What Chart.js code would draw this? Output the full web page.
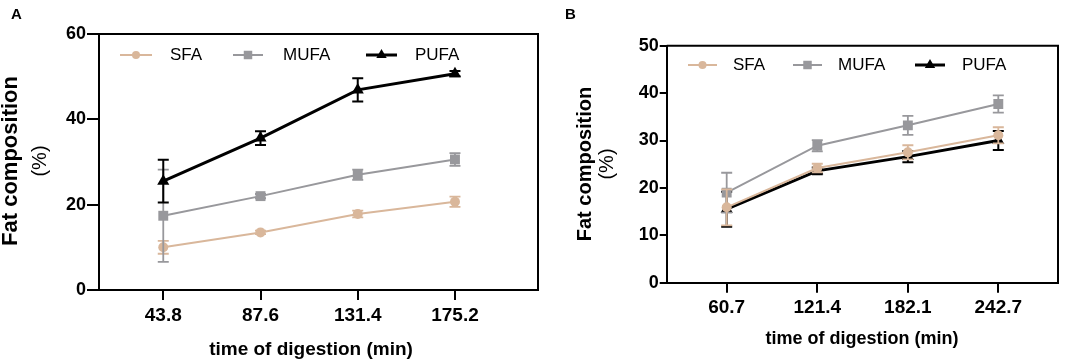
<!DOCTYPE html>
<html><head><meta charset="utf-8">
<script src="https://cdn.jsdelivr.net/npm/chart.js@4.4.1/dist/chart.umd.min.js"></script>
<style>
html,body{margin:0;padding:0;background:#fff;overflow:hidden;}
#wrap{position:relative;width:1084px;height:362px;}
#pa{position:absolute;left:0;top:0;width:545px;height:362px;}
#pb{position:absolute;left:545px;top:0;width:539px;height:362px;}
</style></head><body>
<div id="wrap">
<div id="pa"><canvas id="ca" width="545" height="362"></canvas></div>
<div id="pb"><canvas id="cb" width="539" height="362"></canvas></div>
</div>
<script>
// ---------- data ----------
const seriesNames = ['SFA', 'MUFA', 'PUFA'];

const timesA = [43.8, 87.6, 131.4, 175.2];
const tickLabelsA = ['43.8', '87.6', '131.4', '175.2'];
const sfaA = [10.0, 13.5, 17.8, 20.7];
const sfaErrA = [1.5, 0.4, 0.8, 1.2];
const mufaA = [17.4, 22.0, 27.0, 30.6];
const mufaErrA = [10.8, 0.5, 1.2, 1.5];
const pufaA = [25.5, 35.6, 46.9, 50.7];
const pufaErrA = [5.0, 1.6, 2.7, 0.6];
const yTicksA = [0, 20, 40, 60];

const timesB = [60.7, 121.4, 182.1, 242.7];
const tickLabelsB = ['60.7', '121.4', '182.1', '242.7'];
const sfaB = [15.9, 24.2, 27.5, 31.1];
const sfaErrB = [3.8, 0.9, 1.5, 1.7];
const mufaB = [19.0, 28.9, 33.2, 37.7];
const mufaErrB = [4.2, 1.2, 2.0, 1.8];
const pufaB = [15.5, 23.6, 26.6, 30.0];
const pufaErrB = [3.7, 0.7, 1.2, 2.0];
const yTicksB = [0, 10, 20, 30, 40, 50];

// ---------- styles ----------
const FONT = '"Liberation Sans", Arial, sans-serif';
const COL = { SFA: '#d9b79b', MUFA: '#98989c', PUFA: '#000000' };
const STYLE = {
  SFA: { pointStyle: 'circle', radius: 5, lw: 2 },
  MUFA: { pointStyle: 'rect', radius: 7, lw: 2 },
  PUFA: { pointStyle: 'triangle', radius: 7, lw: 3 }
};

function mkDs(name, xs, ys, errs, order) {
  const s = STYLE[name];
  return {
    label: name,
    data: xs.map((x, i) => ({ x: x, y: ys[i] })),
    errors: errs,
    borderColor: COL[name],
    backgroundColor: COL[name],
    pointBackgroundColor: COL[name],
    pointBorderColor: COL[name],
    pointBorderWidth: 0,
    pointStyle: s.pointStyle,
    pointRadius: s.radius,
    borderWidth: s.lw,
    tension: 0,
    order: order
  };
}

const errorBars = {
  id: 'errorBars',
  beforeDatasetDraw(chart, args) {
    const ds = chart.data.datasets[args.index];
    if (!ds.errors) return;
    const ys = chart.scales.y, ctx = chart.ctx;
    ctx.save();
    ctx.strokeStyle = ds.borderColor;
    ctx.lineWidth = ds.label === 'PUFA' ? 2 : 1.8;
    args.meta.data.forEach((pt, i) => {
      const v = ds.data[i].y, e = ds.errors[i];
      const y1 = ys.getPixelForValue(v + e), y2 = ys.getPixelForValue(v - e);
      const x = pt.x, c = 5.5;
      ctx.beginPath();
      ctx.moveTo(x, y1); ctx.lineTo(x, y2);
      ctx.moveTo(x - c, y1); ctx.lineTo(x + c, y1);
      ctx.moveTo(x - c, y2); ctx.lineTo(x + c, y2);
      ctx.stroke();
    });
    ctx.restore();
  }
};

const decor = {
  id: 'decor',
  afterDraw(chart, args, o) {
    const ctx = chart.ctx, a = chart.chartArea;
    ctx.save();
    // frame
    ctx.strokeStyle = '#000'; ctx.lineWidth = 2;
    ctx.beginPath();
    ctx.moveTo(a.left, a.top); ctx.lineTo(a.right, a.top); ctx.lineTo(a.right, a.bottom);
    ctx.stroke();
    ctx.fillStyle = '#000';
    // panel letter
    ctx.font = 'bold 15px ' + FONT; ctx.textAlign = 'left'; ctx.textBaseline = 'middle';
    ctx.fillText(o.letter, o.letterX, 15);
    // x title
    ctx.font = 'bold ' + o.xtSize + 'px ' + FONT; ctx.textAlign = 'center';
    ctx.fillText('time of digestion (min)', o.xtX, o.xtY);
    // y title
    ctx.save();
    ctx.translate(o.ytX, o.ytY); ctx.rotate(-Math.PI / 2);
    ctx.font = 'bold ' + o.ytSize + 'px ' + FONT;
    ctx.fillText('Fat composition', 0, 0);
    ctx.restore();
    ctx.save();
    ctx.translate(o.yt2X, o.ytY); ctx.rotate(-Math.PI / 2);
    ctx.font = '20px ' + FONT;
    ctx.fillText('(%)', 0, 0);
    ctx.restore();
    // legend
    ctx.font = '17px ' + FONT; ctx.textAlign = 'left';
    o.legend.forEach((it, i) => {
      const ds = chart.data.datasets[i];
      ctx.strokeStyle = ds.borderColor; ctx.lineWidth = ds.borderWidth;
      ctx.beginPath(); ctx.moveTo(it[0], o.legY); ctx.lineTo(it[1], o.legY); ctx.stroke();
      ctx.fillStyle = ds.borderColor;
      Chart.helpers.drawPoint(ctx, { pointStyle: ds.pointStyle, radius: ds.pointRadius - 1, rotation: 0, borderWidth: 0 }, (it[0] + it[1]) / 2, o.legY);
      ctx.fillStyle = '#000';
      ctx.fillText(seriesNames[i], it[2], o.legY);
    });
    ctx.restore();
  }
};

function axisCommon(tickSize) {
  return {
    ticks: { color: '#000', font: { family: FONT, size: tickSize, weight: 'bold' }, autoSkip: false, maxRotation: 0 },
    grid: { display: true, drawOnChartArea: false, drawTicks: true, color: '#000', lineWidth: 2 },
    border: { display: true, color: '#000', width: 2 }
  };
}

function makeChart(id, cfg) {
  const xs = axisCommon(19), ysc = axisCommon(18);
  xs.type = 'linear'; xs.min = cfg.xmin; xs.max = cfg.xmax;
  xs.grid.tickLength = 10; xs.ticks.padding = 4;
  xs.afterBuildTicks = s => { s.ticks = cfg.times.map(v => ({ value: v })); };
  xs.ticks.callback = v => cfg.tickLabels[cfg.times.indexOf(v)];
  xs.afterFit = s => { s.height = cfg.xh; };
  ysc.type = 'linear'; ysc.min = cfg.yTicks[0]; ysc.max = cfg.yTicks[cfg.yTicks.length - 1];
  ysc.grid.tickLength = cfg.ytl; ysc.ticks.padding = 1;
  ysc.afterBuildTicks = s => { s.ticks = cfg.yTicks.map(v => ({ value: v })); };
  ysc.afterFit = s => { s.width = cfg.yw; };
  return new Chart(document.getElementById(id), {
    type: 'line',
    data: { datasets: cfg.datasets },
    options: {
      responsive: false, animation: false,
      layout: { padding: { top: cfg.top, right: cfg.right, left: 0, bottom: 0 } },
      scales: { x: xs, y: ysc },
      plugins: { legend: { display: false }, tooltip: { enabled: false }, decor: cfg.decor }
    },
    plugins: [errorBars, decor]
  });
}

makeChart('ca', {
  times: timesA, tickLabels: tickLabelsA, yTicks: yTicksA,
  xmin: 14.85, xmax: 212.6, xh: 72, yw: 99, ytl: 12, top: 34, right: 2,
  datasets: [
    mkDs('SFA', timesA, sfaA, sfaErrA, 2),
    mkDs('MUFA', timesA, mufaA, mufaErrA, 1),
    mkDs('PUFA', timesA, pufaA, pufaErrA, 0)
  ],
  decor: {
    letter: 'A', letterX: 11, xtSize: 19, xtX: 311, xtY: 350,
    ytX: 11, yt2X: 40, ytY: 161, ytSize: 22,
    legY: 55, legend: [[120, 152, 170], [233, 263, 283], [366, 397, 415]]
  }
});

makeChart('cb', {
  times: timesB, tickLabels: tickLabelsB, yTicks: yTicksB,
  xmin: 20.5, xmax: 282.7, xh: 79.3, yw: 121.7, ytl: 7, top: 45.7, right: 26,
  datasets: [
    mkDs('SFA', timesB, sfaB, sfaErrB, 0),
    mkDs('MUFA', timesB, mufaB, mufaErrB, 1),
    mkDs('PUFA', timesB, pufaB, pufaErrB, 2)
  ],
  decor: {
    letter: 'B', letterX: 20, xtSize: 18, xtX: 317, xtY: 339,
    ytX: 40, yt2X: 62, ytY: 164, ytSize: 20,
    legY: 65, legend: [[143, 172, 188], [248, 277, 293], [370, 400, 417]]
  }
});
</script>
</body></html>
